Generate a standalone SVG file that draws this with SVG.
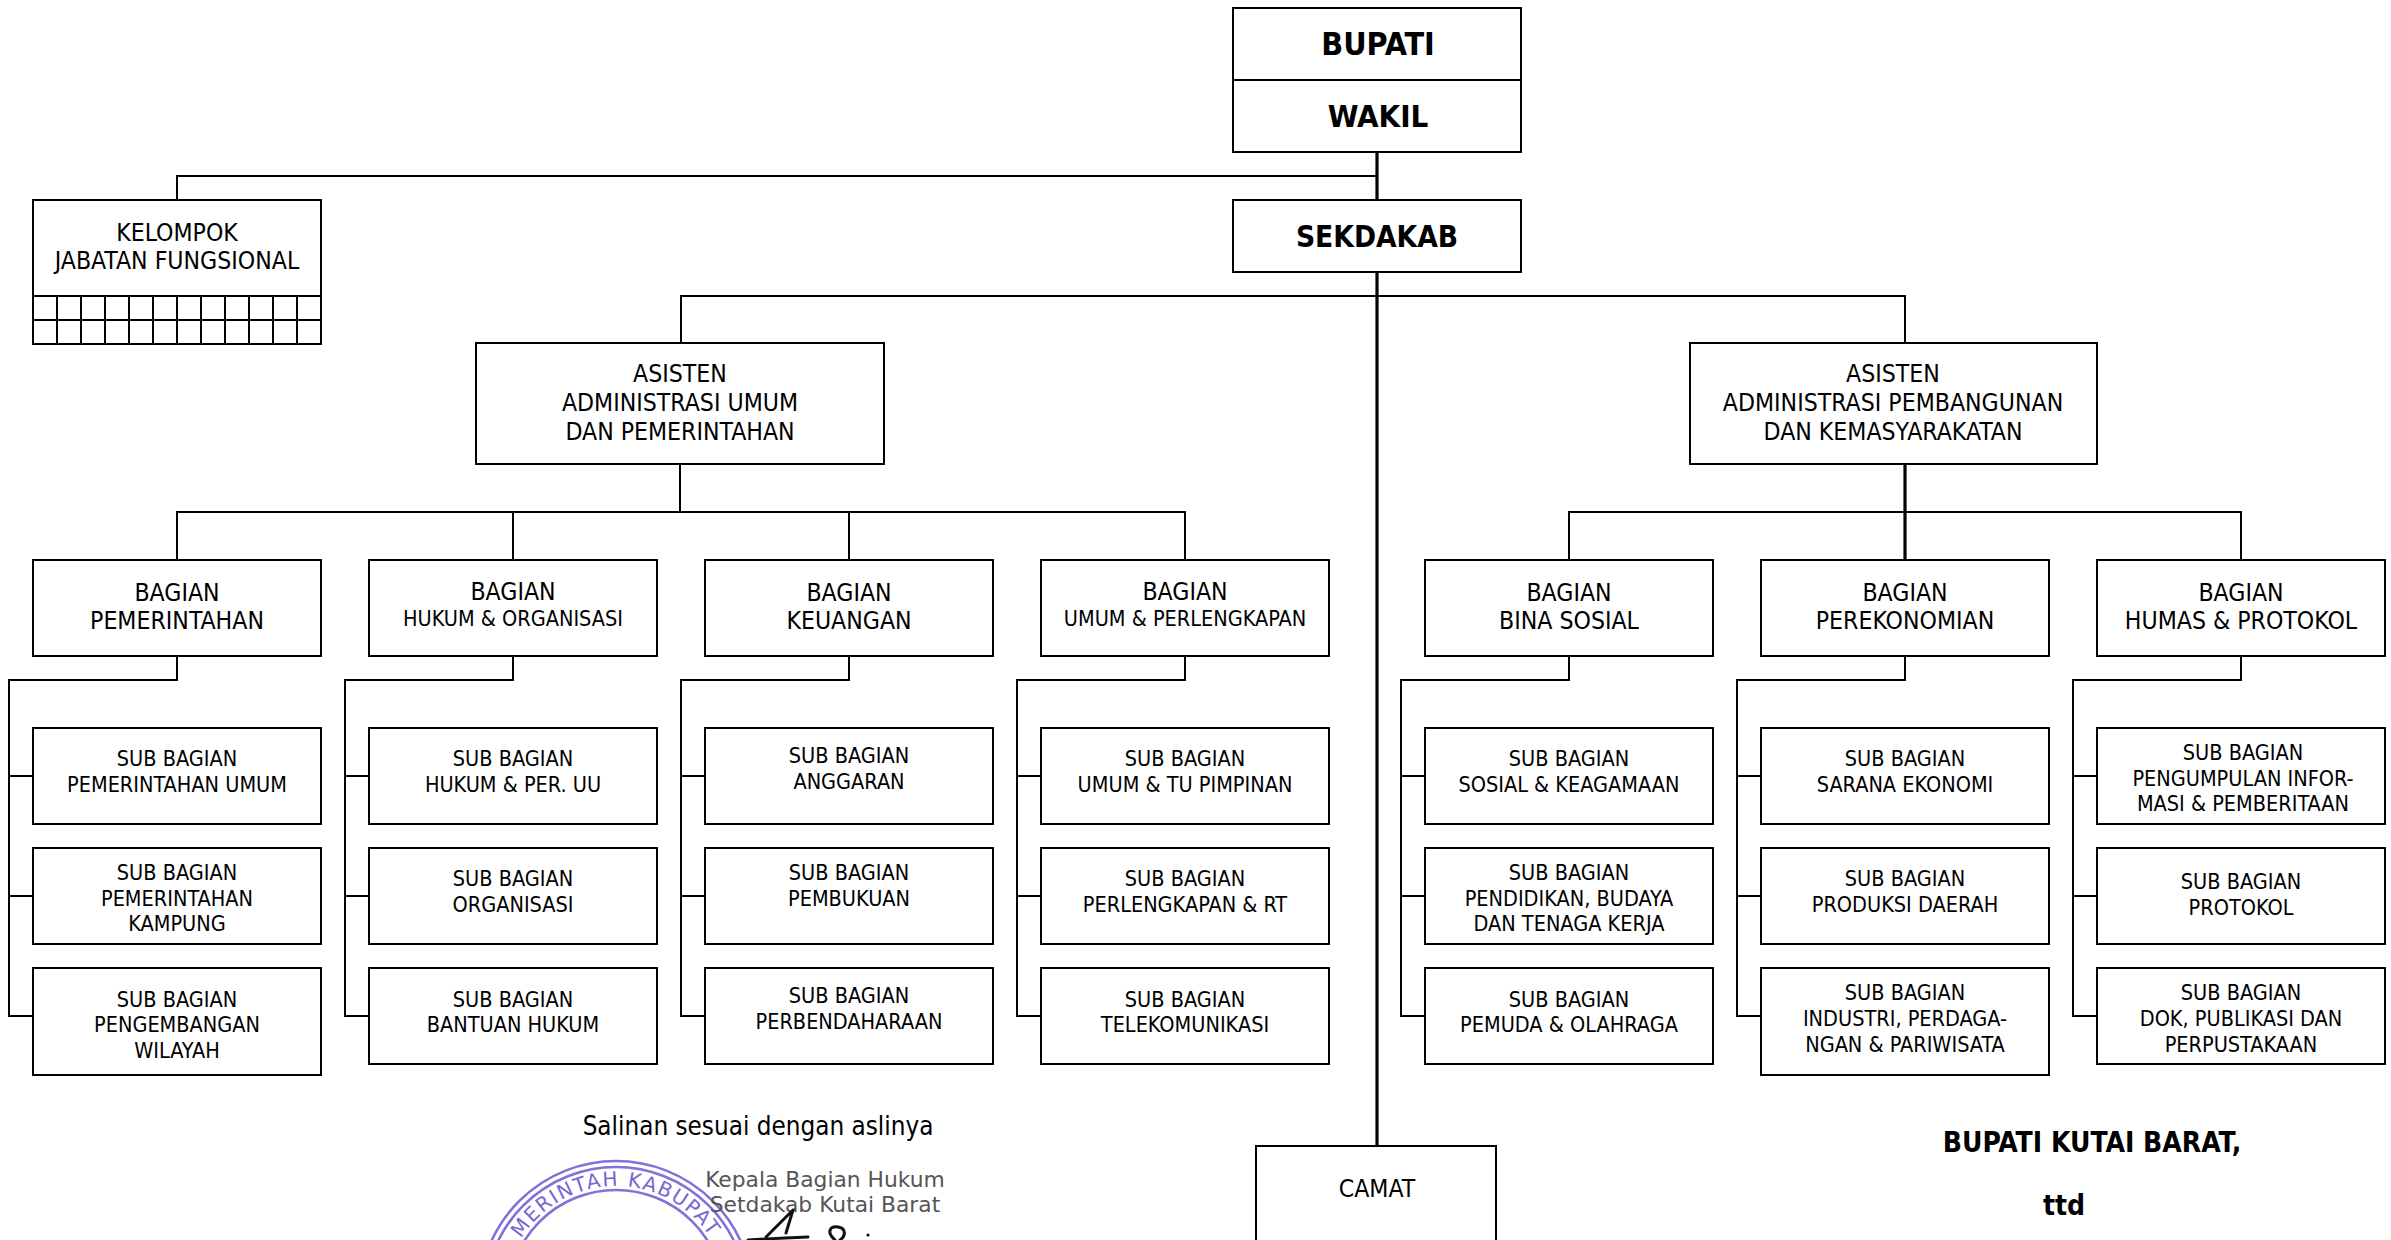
<svg xmlns="http://www.w3.org/2000/svg" width="2391" height="1240" viewBox="0 0 2391 1240">
<style>
.b{fill:#fff;stroke:#000;stroke-width:2}
.c{fill:none;stroke:#000;stroke-width:2}
.s{fill:none;stroke:#000;stroke-width:3.2}
text{font-family:"DejaVu Sans Condensed","DejaVu Sans",sans-serif;fill:#000;text-anchor:middle}
.l{font-size:24.6px}
.m{font-size:21.5px}
.h{font-size:31px;font-weight:bold}
.f{font-size:28px;font-weight:bold}
.g{font-size:21.8px;fill:#555;font-family:"DejaVu Sans",sans-serif}
.r{fill:none;stroke:#8570d8;stroke-width:2.6}
.t{font-size:20px;fill:#7a64d4;font-family:"DejaVu Sans",sans-serif;text-anchor:start}
.q{fill:none;stroke:#111;stroke-width:3;stroke-linecap:round}
</style>
<rect width="2391" height="1240" fill="#fff"/>
<g id="connectors">
<path class="s" d="M1377 152V1146"/>
<path class="c" d="M177 200V176H1377"/>
<path class="c" d="M681 343V296H1905V343"/>
<path class="c" d="M177 560V512H1185V560M513 512V560M849 512V560M680 464V512"/>
<path class="c" d="M1569 560V512H2241V560"/>
<path class="s" d="M1905 464V560"/>
<path class="c" d="M177 656V680H9V1016H33M9 776H33M9 896H33"/>
<path class="c" d="M513 656V680H345V1016H369M345 776H369M345 896H369"/>
<path class="c" d="M849 656V680H681V1016H705M681 776H705M681 896H705"/>
<path class="c" d="M1185 656V680H1017V1016H1041M1017 776H1041M1017 896H1041"/>
<path class="c" d="M1569 656V680H1401V1016H1425M1401 776H1425M1401 896H1425"/>
<path class="c" d="M1905 656V680H1737V1016H1761M1737 776H1761M1737 896H1761"/>
<path class="c" d="M2241 656V680H2073V1016H2097M2073 776H2097M2073 896H2097"/>
</g>
<g id="bupati"><rect class="b" x="1233" y="8" width="288" height="72"/><text class="h" x="1378" y="55" style="font-size:32px">BUPATI</text></g>
<g id="wakil"><rect class="b" x="1233" y="80" width="288" height="72"/><text class="h" x="1378" y="127">WAKIL</text></g>
<g id="sekdakab"><rect class="b" x="1233" y="200" width="288" height="72"/><text class="h" x="1377" y="247" style="font-size:29.6px">SEKDAKAB</text></g>
<g id="kelompok"><rect class="b" x="33" y="200" width="288" height="144"/>
<path class="c" d="M33 296H321M33 320H321M57 296V344M81 296V344M105 296V344M129 296V344M153 296V344M177 296V344M201 296V344M225 296V344M249 296V344M273 296V344M297 296V344"/>
<text class="l" x="177" y="241">KELOMPOK</text><text class="l" x="177" y="269">JABATAN FUNGSIONAL</text></g>
<g id="asisten-umum"><rect class="b" x="476" y="343" width="408" height="121"/><text class="l" x="680" y="382">ASISTEN</text><text class="l" x="680" y="411">ADMINISTRASI UMUM</text><text class="l" x="680" y="440">DAN PEMERINTAHAN</text></g>
<g id="asisten-pembangunan"><rect class="b" x="1690" y="343" width="407" height="121"/><text class="l" x="1893" y="382">ASISTEN</text><text class="l" x="1893" y="411">ADMINISTRASI PEMBANGUNAN</text><text class="l" x="1893" y="440">DAN KEMASYARAKATAN</text></g>

<g id="bagian-pemerintahan"><rect class="b" x="33" y="560" width="288" height="96"/><text class="l" x="177" y="601">BAGIAN</text><text class="l" x="177" y="629">PEMERINTAHAN</text></g>
<g id="bagian-hukum"><rect class="b" x="369" y="560" width="288" height="96"/><text class="l" x="513" y="600">BAGIAN</text><text class="m" x="513" y="626">HUKUM &amp; ORGANISASI</text></g>
<g id="bagian-keuangan"><rect class="b" x="705" y="560" width="288" height="96"/><text class="l" x="849" y="601">BAGIAN</text><text class="l" x="849" y="629">KEUANGAN</text></g>
<g id="bagian-umum"><rect class="b" x="1041" y="560" width="288" height="96"/><text class="l" x="1185" y="600">BAGIAN</text><text class="m" x="1185" y="626">UMUM &amp; PERLENGKAPAN</text></g>
<g id="bagian-sosial"><rect class="b" x="1425" y="560" width="288" height="96"/><text class="l" x="1569" y="601">BAGIAN</text><text class="l" x="1569" y="629">BINA SOSIAL</text></g>
<g id="bagian-perekonomian"><rect class="b" x="1761" y="560" width="288" height="96"/><text class="l" x="1905" y="601">BAGIAN</text><text class="l" x="1905" y="629">PEREKONOMIAN</text></g>
<g id="bagian-humas"><rect class="b" x="2097" y="560" width="288" height="96"/><text class="l" x="2241" y="601">BAGIAN</text><text class="l" x="2241" y="629">HUMAS &amp; PROTOKOL</text></g>

<g id="sub-1-1"><rect class="b" x="33" y="728" width="288" height="96"/><text class="m" x="177" y="766">SUB BAGIAN</text><text class="m" x="177" y="792">PEMERINTAHAN UMUM</text></g>
<g id="sub-1-2"><rect class="b" x="33" y="848" width="288" height="96"/><text class="m" x="177" y="880">SUB BAGIAN</text><text class="m" x="177" y="906">PEMERINTAHAN</text><text class="m" x="177" y="931">KAMPUNG</text></g>
<g id="sub-1-3"><rect class="b" x="33" y="968" width="288" height="107"/><text class="m" x="177" y="1007">SUB BAGIAN</text><text class="m" x="177" y="1032">PENGEMBANGAN</text><text class="m" x="177" y="1058">WILAYAH</text></g>

<g id="sub-2-1"><rect class="b" x="369" y="728" width="288" height="96"/><text class="m" x="513" y="766">SUB BAGIAN</text><text class="m" x="513" y="792">HUKUM &amp; PER. UU</text></g>
<g id="sub-2-2"><rect class="b" x="369" y="848" width="288" height="96"/><text class="m" x="513" y="886">SUB BAGIAN</text><text class="m" x="513" y="912">ORGANISASI</text></g>
<g id="sub-2-3"><rect class="b" x="369" y="968" width="288" height="96"/><text class="m" x="513" y="1007">SUB BAGIAN</text><text class="m" x="513" y="1032">BANTUAN HUKUM</text></g>

<g id="sub-3-1"><rect class="b" x="705" y="728" width="288" height="96"/><text class="m" x="849" y="763">SUB BAGIAN</text><text class="m" x="849" y="789">ANGGARAN</text></g>
<g id="sub-3-2"><rect class="b" x="705" y="848" width="288" height="96"/><text class="m" x="849" y="880">SUB BAGIAN</text><text class="m" x="849" y="906">PEMBUKUAN</text></g>
<g id="sub-3-3"><rect class="b" x="705" y="968" width="288" height="96"/><text class="m" x="849" y="1003">SUB BAGIAN</text><text class="m" x="849" y="1029">PERBENDAHARAAN</text></g>

<g id="sub-4-1"><rect class="b" x="1041" y="728" width="288" height="96"/><text class="m" x="1185" y="766">SUB BAGIAN</text><text class="m" x="1185" y="792">UMUM &amp; TU PIMPINAN</text></g>
<g id="sub-4-2"><rect class="b" x="1041" y="848" width="288" height="96"/><text class="m" x="1185" y="886">SUB BAGIAN</text><text class="m" x="1185" y="912">PERLENGKAPAN &amp; RT</text></g>
<g id="sub-4-3"><rect class="b" x="1041" y="968" width="288" height="96"/><text class="m" x="1185" y="1007">SUB BAGIAN</text><text class="m" x="1185" y="1032">TELEKOMUNIKASI</text></g>

<g id="sub-5-1"><rect class="b" x="1425" y="728" width="288" height="96"/><text class="m" x="1569" y="766">SUB BAGIAN</text><text class="m" x="1569" y="792">SOSIAL &amp; KEAGAMAAN</text></g>
<g id="sub-5-2"><rect class="b" x="1425" y="848" width="288" height="96"/><text class="m" x="1569" y="880">SUB BAGIAN</text><text class="m" x="1569" y="906">PENDIDIKAN, BUDAYA</text><text class="m" x="1569" y="931">DAN TENAGA KERJA</text></g>
<g id="sub-5-3"><rect class="b" x="1425" y="968" width="288" height="96"/><text class="m" x="1569" y="1007">SUB BAGIAN</text><text class="m" x="1569" y="1032">PEMUDA &amp; OLAHRAGA</text></g>

<g id="sub-6-1"><rect class="b" x="1761" y="728" width="288" height="96"/><text class="m" x="1905" y="766">SUB BAGIAN</text><text class="m" x="1905" y="792">SARANA EKONOMI</text></g>
<g id="sub-6-2"><rect class="b" x="1761" y="848" width="288" height="96"/><text class="m" x="1905" y="886">SUB BAGIAN</text><text class="m" x="1905" y="912">PRODUKSI DAERAH</text></g>
<g id="sub-6-3"><rect class="b" x="1761" y="968" width="288" height="107"/><text class="m" x="1905" y="1000">SUB BAGIAN</text><text class="m" x="1905" y="1026">INDUSTRI, PERDAGA-</text><text class="m" x="1905" y="1052">NGAN &amp; PARIWISATA</text></g>

<g id="sub-7-1"><rect class="b" x="2097" y="728" width="288" height="96"/><text class="m" x="2243" y="760">SUB BAGIAN</text><text class="m" x="2243" y="786">PENGUMPULAN INFOR-</text><text class="m" x="2243" y="811">MASI &amp; PEMBERITAAN</text></g>
<g id="sub-7-2"><rect class="b" x="2097" y="848" width="288" height="96"/><text class="m" x="2241" y="889">SUB BAGIAN</text><text class="m" x="2241" y="915">PROTOKOL</text></g>
<g id="sub-7-3"><rect class="b" x="2097" y="968" width="288" height="96"/><text class="m" x="2241" y="1000">SUB BAGIAN</text><text class="m" x="2241" y="1026">DOK, PUBLIKASI DAN</text><text class="m" x="2241" y="1052">PERPUSTAKAAN</text></g>

<g id="camat"><rect class="b" x="1256" y="1146" width="240" height="110"/><text class="l" x="1377" y="1197">CAMAT</text></g>

<text class="l" x="758" y="1135" style="font-size:25.8px">Salinan sesuai dengan aslinya</text>
<text class="f" x="2092" y="1152">BUPATI KUTAI BARAT,</text>
<text class="f" x="2064" y="1215">ttd</text>

<g id="stamp">
<circle class="r" cx="616" cy="1298" r="137"/>
<circle class="r" cx="616" cy="1298" r="131"/>
<circle class="r" cx="616" cy="1298" r="108"/>
<path id="arc" d="M521 1238.6A112 112 0 0 1 711 1238.6" fill="none"/>
<text class="t"><textPath href="#arc" textLength="224">MERINTAH KABUPAT</textPath></text>
</g>
<text class="g" x="825" y="1187">Kepala Bagian Hukum</text>
<text class="g" x="825" y="1212">Setdakab Kutai Barat</text>
<g id="signature">
<path class="q" d="M793 1210L766 1237M793 1210L786 1233M748 1240Q780 1238 808 1237M835 1240C826 1232 830 1226 838 1227C846 1228 846 1236 840 1240"/>
<circle cx="868" cy="1235" r="1.6" fill="#111"/>
</g>
</svg>
